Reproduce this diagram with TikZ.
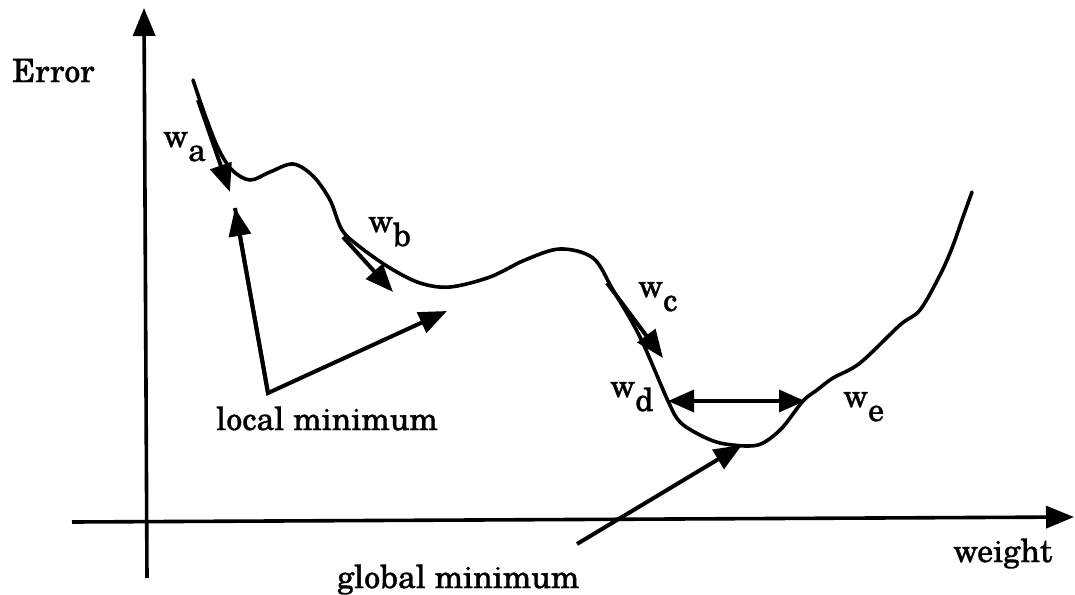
\documentclass[tikz,border=0pt]{standalone}
\usepackage{fontspec}
\setmainfont{texgyreschola-regular.otf}[FakeBold=0.9]
\usetikzlibrary{arrows.meta}
\newcommand\wsub[1]{w\raisebox{-14pt}{#1}}
\tikzset{
  lbl/.style={anchor=base west, inner sep=0pt, font=\fontsize{32}{38}\selectfont\bfseries},
  axisline/.style={line width=3.6pt, -{Triangle[length=28pt,width=22pt]}},
  ptr/.style={line width=4pt, -{Triangle[length=28pt,width=22pt]}},
  curveline/.style={line width=3.6pt, line cap=round, line join=round},
}
\begin{document}
\begin{tikzpicture}[x=1pt,y=-1pt]
\useasboundingbox (0,0) rectangle (1075,594);
% axes
\coordinate (xs) at (72,522);
\coordinate (xe) at (1074,517);
\coordinate (ys) at (147,578);
\coordinate (ye) at (144,8);
\draw[axisline] (xs) -- (xe);
\draw[axisline] (ys) -- (ye);
% error curve
\draw[curveline] plot[smooth, tension=0.55] coordinates {
 (193,80) (205,115) (218,148) (232,170) (250,180) (270,172) (293,164)
 (313,176) (330,200) (342,230) (360,247) (390,268) (420,283) (450,287)
 (490,277) (525,260) (560,249) (593,258) (613,290) (640,337) (668,401)
 (680,422) (700,435) (720,443) (747,446) (763,443) (782,428) (803,401)
 (817,390) (833,378) (860,363) (900,325) (920,310) (940,275) (952,248)
 (963,217) (972,192)};
% gradient step arrows
\coordinate (a0) at (198,100); \coordinate (a1) at (230,192);
\coordinate (b0) at (343,237); \coordinate (b1) at (393,292);
\coordinate (c0) at (607,283); \coordinate (c1) at (663,358);
\draw[ptr] (a0) -- (a1);
\draw[ptr] (b0) -- (b1);
\draw[ptr] (c0) -- (c1);
% d-e double arrow
\coordinate (d) at (668,401); \coordinate (e) at (805,401);
\draw[line width=3.6pt, {Triangle[length=26pt,width=22pt]}-{Triangle[length=26pt,width=22pt]}] (d) -- (e);
% local minimum pointers
\coordinate (lv) at (268,393);
\coordinate (l1) at (235,208);
\coordinate (l2) at (447,311);
\draw[ptr, line join=miter] (l1) -- (lv) -- (l2);
\draw[ptr] (lv) -- (l1);
% global minimum pointer
\coordinate (g0) at (577,544);
\coordinate (g1) at (742,445);
\draw[ptr] (g0) -- (g1);
% labels
\node[lbl] (err) at (12,82) {Error};
\node[lbl] (wa) at (163,147) {\wsub{a}};
\node[lbl] (wb) at (368,232) {\wsub{b}};
\node[lbl] (wc) at (638,297) {\wsub{c}};
\node[lbl] (wd) at (610,397) {\wsub{d}};
\node[lbl] (we) at (843,407) {\wsub{e}};
\node[lbl] (loc) at (216,430) {local minimum};
\node[lbl] (glob) at (337,588) {global minimum};
\node[lbl] (wt) at (953,562) {weight};
\end{tikzpicture}
\end{document}
